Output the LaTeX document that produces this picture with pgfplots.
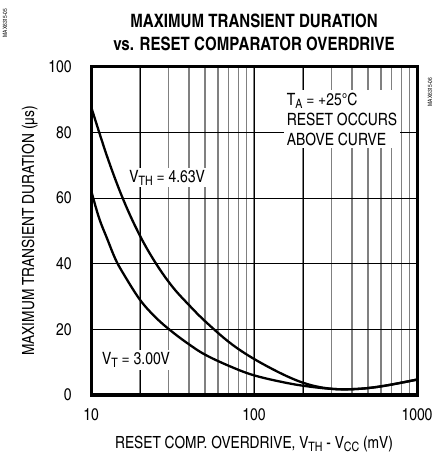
\documentclass[border=0pt]{standalone}
\usepackage{fontspec}
\setmainfont{texgyreheroscn}[Extension=.otf, UprightFont=*-regular, BoldFont=*-bold]
\usepackage{pgfplots}
\pgfplotsset{compat=1.18}

\newcommand\sub[1]{\raisebox{-0.35ex}{\fontsize{13}{13}\selectfont #1}}

\begin{document}
\begin{tikzpicture}
\begin{axis}[
  name=ax,
  at={(0,0)}, anchor=south west,
  scale only axis,
  width=326bp, height=328bp,
  xmode=log,
  xmin=10, xmax=1000,
  ymin=0, ymax=100,
  xtick={10,100,1000},
  xticklabels={10,100,1000},
  ytick={0,20,60,100},
  extra y ticks={40,80},
  extra y tick style={grid style={gray, line width=1.2bp}},
  extra x ticks={20,200},
  extra x tick labels={},
  extra x tick style={grid style={black, line width=0.8bp}},
  major tick length=0pt, minor tick length=0pt,
  xmajorgrids, xminorgrids, ymajorgrids,
  major grid style={black, line width=0.8bp},
  minor grid style={gray, line width=1.4bp},
  axis line style={line width=3bp},
  /pgf/number format/assume math mode=true,
  tick label style={font=\fontsize{17}{19}\selectfont},
  yticklabel style={xshift=-16bp},
  xticklabel style={yshift=-10bp},
  xlabel={RESET COMP. OVERDRIVE, V\sub{TH} - V\sub{CC} (mV)},
  ylabel={MAXIMUM TRANSIENT DURATION (µs)},
  label style={font=\fontsize{16.8}{19}\selectfont},
  xlabel style={yshift=-9bp},
  ylabel style={yshift=4bp},
  title={MAXIMUM TRANSIENT DURATION\\vs. RESET COMPARATOR OVERDRIVE},
  title style={font=\bfseries\fontsize{18.5}{23}\selectfont, align=center, yshift=7bp},
]
% V_TH = 4.63V
\addplot[black, line width=2.3bp, smooth, tension=0.6] coordinates {
  (10,88) (12.6,72.5) (15.8,59.5) (20,48.5) (25.1,40) (31.6,33) (39.8,27.5)
  (50.1,22.5) (70.8,16) (100,11) (158,5.8) (224,3.0) (316,1.8) (447,1.9)
  (631,2.8) (1000,4.7)
};
% V_T = 3.00V
\addplot[black, line width=2.3bp, smooth, tension=0.6] coordinates {
  (10,62.5) (11.2,54) (12.6,47.5) (14.1,41.5) (15.8,37) (20,29) (25.1,23.5)
  (31.6,19.2) (39.8,15.5) (50.1,12.3) (70.8,8.8) (100,6.0) (158,3.7)
  (224,2.5) (316,1.8) (447,1.9) (631,2.8) (1000,4.7)
};
\node[fill=white, inner sep=2bp, font=\fontsize{17}{19}\selectfont] at (axis cs:29.3,66.2) {V\sub{TH} = 4.63V};
\node[fill=white, inner sep=2bp, font=\fontsize{17}{19}\selectfont] at (axis cs:18.9,10.7) {V\sub{T} = 3.00V};
\node[fill=white, inner sep=3bp, anchor=west, align=left, font=\fontsize{17}{20}\selectfont] at (axis cs:152,84.1) {T\sub{A} = +25°C\\RESET OCCURS\\ABOVE CURVE};
\end{axis}
\node[rotate=90, font=\fontsize{6}{7}\selectfont] at (339bp,303bp) {MAX6315-06};
\node[rotate=90, font=\fontsize{6}{7}\selectfont] at (-86bp,372bp) {MAX6315-05};
\pgfresetboundingbox
\path (-91bp,-61bp) rectangle (350bp,395bp);
\end{tikzpicture}
\end{document}
